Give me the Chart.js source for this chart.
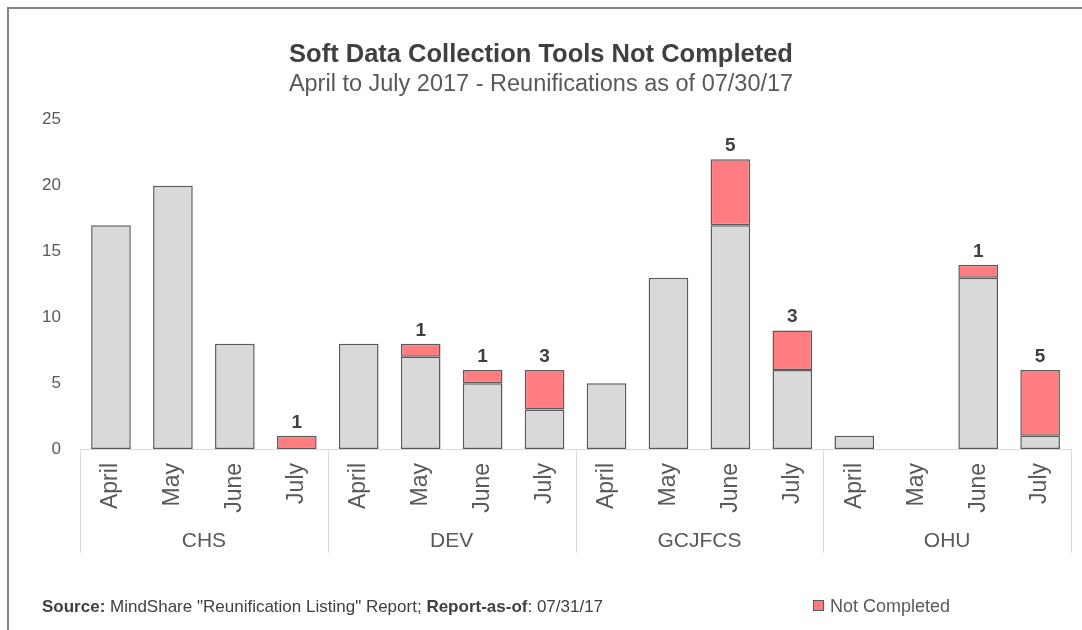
<!DOCTYPE html>
<html>
<head>
<meta charset="utf-8">
<title>Soft Data Collection Tools Not Completed</title>
<script src="https://cdn.jsdelivr.net/npm/chart.js@4"></script>
<style>
  body { margin: 0; background: #fff; }
  #wrap { position: relative; width: 1082px; height: 630px; overflow: hidden; }
  #frame { position: absolute; left: 7px; top: 7px; right: -10px; bottom: -10px;
           border-left: 2px solid #858585; border-top: 2px solid #858585; }
  #chart { position: absolute; left: 0; top: 0; }
  .foot { position: absolute; font-family: "Liberation Sans", Arial, sans-serif; }
  #source { left: 42px; top: 597px; color: #404040; font-size: 17px; }
  #legend { left: 813px; top: 596px; color: #595959; font-size: 18px; }
  #legend span.box { display: inline-block; width: 9px; height: 9px; background: #ff7c80;
                     border: 1px solid #595959; margin-right: 6px; vertical-align: 1px; }
</style>
</head>
<body>
<div id="wrap">
  <div id="frame"></div>
  <canvas id="chart" width="1082" height="630"></canvas>
  <div class="foot" id="source"><b>Source:</b> MindShare "Reunification Listing" Report; <b>Report-as-of</b>: 07/31/17</div>
  <div class="foot" id="legend"><span class="box"></span>Not Completed</div>
</div>
<script>
// data
const groups = ['CHS', 'DEV', 'GCJFCS', 'OHU'];
const months = ['April', 'May', 'June', 'July'];
const completed    = [17, 20, 8, 0,   8, 7, 5, 3,   5, 13, 17, 6,   1, 0, 13, 1];
const notCompleted = [0, 0, 0, 1,     0, 1, 1, 3,   0, 0, 5, 3,     0, 0, 1, 5];

const labels = [];
groups.forEach(g => months.forEach(m => labels.push(m)));

const FONT = '"Liberation Sans", Arial, sans-serif';
Chart.defaults.font.family = FONT;

// group box under the month labels + the numbers above the red parts
const groupAxis = {
    id: 'groupAxis',
    afterDraw(chart) {
        const ctx = chart.ctx;
        const x = chart.scales.x;
        const top = chart.chartArea.bottom;
        const bottom = x.bottom;
        const n = months.length;
        ctx.save();
        ctx.strokeStyle = '#d9d9d9';
        ctx.lineWidth = 1;
        for (let g = 0; g <= groups.length; g++) {
            let px;
            if (g === 0) px = x.left;
            else if (g === groups.length) px = x.right;
            else px = (x.getPixelForValue(g * n - 1) + x.getPixelForValue(g * n)) / 2;
            px = Math.round(px) + 0.5;
            ctx.beginPath();
            ctx.moveTo(px, top);
            ctx.lineTo(px, bottom);
            ctx.stroke();
        }
        ctx.fillStyle = '#595959';
        ctx.font = '21px ' + FONT;
        ctx.textAlign = 'center';
        ctx.textBaseline = 'middle';
        groups.forEach((g, i) => {
            const cx = (x.getPixelForValue(i * n) + x.getPixelForValue(i * n + n - 1)) / 2;
            ctx.fillText(g, cx, bottom - 12);
        });
        ctx.restore();
    },
    afterDatasetsDraw(chart) {
        const ctx = chart.ctx;
        const meta = chart.getDatasetMeta(1);
        ctx.save();
        ctx.fillStyle = '#404040';
        ctx.font = 'bold 19px ' + FONT;
        ctx.textAlign = 'center';
        ctx.textBaseline = 'alphabetic';
        meta.data.forEach((bar, i) => {
            if (notCompleted[i] > 0) ctx.fillText(notCompleted[i], bar.x, bar.y - 8);
        });
        ctx.restore();
    }
};

const ctx = document.getElementById('chart').getContext('2d');
new Chart(ctx, {
    type: 'bar',
    data: {
        labels: labels,
        datasets: [{
            label: 'Completed',
            data: completed.map(v => v || null),
            backgroundColor: '#d9d9d9',
            borderColor: '#5a5a5a',
            borderWidth: 1.5,
            borderSkipped: false
        }, {
            label: 'Not Completed',
            data: notCompleted.map(v => v || null),
            backgroundColor: '#ff7c80',
            borderColor: '#5a5a5a',
            borderWidth: 1.5,
            borderSkipped: false
        }]
    },
    options: {
        responsive: false,
        animation: false,
        categoryPercentage: 1,
        barPercentage: 0.64,
        layout: { padding: { left: 9, right: 9, top: 0, bottom: 77 } },
        plugins: {
            legend: { display: false },
            tooltip: { enabled: false },
            title: {
                display: true,
                text: 'Soft Data Collection Tools Not Completed',
                color: '#404040',
                font: { size: 25.5, weight: 'bold', lineHeight: 1.2 },
                padding: { top: 40, bottom: 0 }
            },
            subtitle: {
                display: true,
                text: 'April to July 2017 - Reunifications as of 07/30/17',
                color: '#595959',
                font: { size: 23.5, lineHeight: 1.2 },
                padding: { top: 0, bottom: 21 }
            }
        },
        scales: {
            x: {
                stacked: true,
                grid: { display: false, drawTicks: false },
                border: { display: true, color: '#d9d9d9', width: 1 },
                ticks: { color: '#595959', font: { size: 23 }, minRotation: 90, maxRotation: 90, padding: 14, autoSkip: false },
                afterFit(scale) { scale.height = 104; }
            },
            y: {
                stacked: true,
                min: 0,
                max: 25,
                grid: { display: false, drawTicks: false },
                border: { display: false },
                ticks: { stepSize: 5, color: '#595959', font: { size: 17 }, padding: 19 },
                afterFit(scale) { scale.width = 71; }
            }
        }
    },
    plugins: [groupAxis]
});
</script>
</body>
</html>
